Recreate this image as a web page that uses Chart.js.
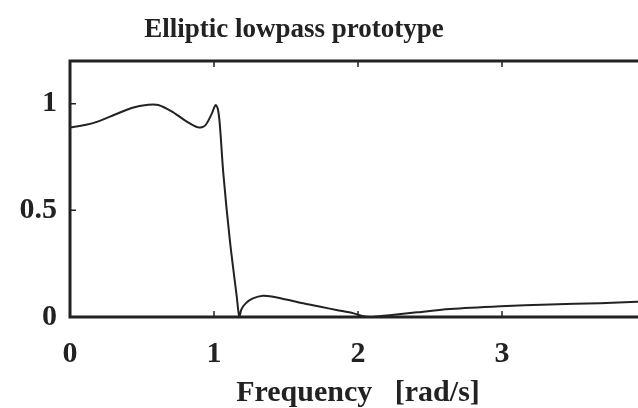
<!DOCTYPE html>
<html>
<head>
<meta charset="utf-8">
<script src="https://cdn.jsdelivr.net/npm/chart.js@4"></script>
<style>
    html, body { margin: 0; padding: 0; background: #fff; }
    #wrap { width: 638px; height: 408px; overflow: hidden; position: relative; }
    #chart { display: block; }
</style>
</head>
<body>
<div id="wrap"><canvas id="chart" width="700" height="408"></canvas></div>
<script>
// --- Data ---
const freq = [0, 0.104, 0.197, 0.313, 0.428, 0.544, 0.613, 0.706, 0.80, 0.89, 0.938, 0.984, 1.01, 1.026, 1.04,
    1.065, 1.11, 1.158, 1.176, 1.19, 1.22, 1.27, 1.34, 1.41, 1.50, 1.62, 1.74, 1.85, 1.97, 2.03, 2.08,
    2.15, 2.25, 2.41, 2.64, 2.99, 3.33, 3.68, 3.94, 4.0];
const magnitude = [0.889, 0.900, 0.917, 0.949, 0.980, 0.995, 0.994, 0.964, 0.921, 0.889, 0.897, 0.952, 0.993, 0.977, 0.905,
    0.671, 0.360, 0.095, 0.0, 0.035, 0.064, 0.087, 0.100, 0.095, 0.082, 0.064, 0.048, 0.033, 0.017, 0.005, 0.0,
    0.004, 0.010, 0.022, 0.037, 0.050, 0.059, 0.065, 0.071, 0.072];
const xTicks = [0, 1, 2, 3, 4];
const yTicks = [0, 0.5, 1];

const chartTitle = 'Elliptic lowpass prototype';
const xLabel = 'Frequency   [rad/s]';

const INK = '#222';
const SERIF = '"Liberation Serif", "Times New Roman", serif';

// --- Plugins ---
// title drawn at a fixed spot, frame around the plot, ticks pointing inward
const framePlugin = {
    id: 'frame',
    afterDraw(chart) {
        const { ctx, chartArea: a, scales } = chart;
        ctx.save();
        ctx.strokeStyle = INK;
        ctx.lineWidth = 3;
        ctx.strokeRect(a.left, a.top, a.right - a.left, a.bottom - a.top);

        ctx.lineWidth = 1.5;
        ctx.beginPath();
        xTicks.forEach(v => {
            const px = scales.x.getPixelForValue(v);
            ctx.moveTo(px, a.bottom); ctx.lineTo(px, a.bottom - 6);
            ctx.moveTo(px, a.top); ctx.lineTo(px, a.top + 6);
        });
        yTicks.forEach(v => {
            const py = scales.y.getPixelForValue(v);
            ctx.moveTo(a.left, py); ctx.lineTo(a.left + 6, py);
        });
        ctx.stroke();

        ctx.fillStyle = INK;
        ctx.font = 'bold 27px ' + SERIF;
        ctx.textAlign = 'center';
        ctx.textBaseline = 'alphabetic';
        ctx.fillText(chartTitle, 294, 37);
        ctx.restore();
    }
};

const chart = new Chart(document.getElementById('chart'), {
    type: 'line',
    data: {
        datasets: [{
            data: freq.map((f, i) => ({ x: f, y: magnitude[i] })),
            borderColor: INK,
            borderWidth: 2,
            pointRadius: 0,
            tension: 0.3,
            fill: false
        }]
    },
    options: {
        responsive: false,
        animation: false,
        layout: { padding: { top: 61, right: 54, bottom: 0, left: 0 } },
        plugins: { legend: { display: false }, tooltip: { enabled: false } },
        scales: {
            x: {
                type: 'linear',
                min: 0,
                max: 4,
                grid: { display: false },
                border: { display: false },
                afterBuildTicks: s => { s.ticks = xTicks.map(v => ({ value: v })); },
                afterFit: s => { s.height = 91; },
                ticks: {
                    color: INK,
                    padding: 11,
                    maxRotation: 0,
                    font: { family: SERIF, size: 30, weight: 'bold' },
                    callback: v => String(v)
                },
                title: {
                    display: true,
                    text: xLabel,
                    color: INK,
                    padding: { top: 0, bottom: -3 },
                    font: { family: SERIF, size: 30, weight: 'bold' }
                }
            },
            y: {
                min: 0,
                max: 1.2,
                grid: { display: false },
                border: { display: false },
                afterBuildTicks: s => { s.ticks = yTicks.map(v => ({ value: v })); },
                afterFit: s => { s.width = 70; },
                ticks: {
                    color: INK,
                    padding: 5,
                    font: { family: SERIF, size: 30, weight: 'bold' },
                    callback: v => String(v)
                }
            }
        }
    },
    plugins: [framePlugin]
});
</script>
</body>
</html>
